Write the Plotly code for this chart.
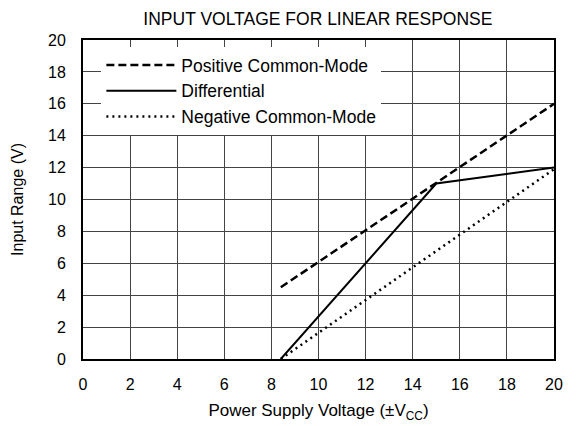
import plotly.graph_objects as go

# Data
pos_x = [8.4, 20]
pos_y = [4.5, 16]
diff_x = [8.4, 15, 20]
diff_y = [0, 11, 12]
neg_x = [8.4, 20]
neg_y = [0, 11.9]

x_ticks = list(range(0, 21, 2))
y_ticks = list(range(0, 21, 2))

FONT = "Liberation Sans, Arial, sans-serif"

fig = go.Figure()
fig.add_trace(go.Scatter(x=pos_x, y=pos_y, mode="lines", name="Positive Common-Mode",
                         line=dict(color="black", width=2.5, dash="8px,4px")))
fig.add_trace(go.Scatter(x=diff_x, y=diff_y, mode="lines", name="Differential",
                         line=dict(color="black", width=2)))
fig.add_trace(go.Scatter(x=neg_x, y=neg_y, mode="lines", name="Negative Common-Mode",
                         line=dict(color="black", width=2.5, dash="2px,4px")))

fig.update_layout(
    width=577, height=426,
    margin=dict(l=83, r=23, t=40, b=67, autoexpand=False),
    paper_bgcolor="white", plot_bgcolor="white",
    font=dict(family=FONT, size=16, color="black"),
    title=dict(text="INPUT VOLTAGE FOR LINEAR RESPONSE", x=0.551, xanchor="center",
               xref="container", y=0.955, yanchor="middle", font=dict(size=17.5)),
    showlegend=True,
    legend=dict(x=0.039, y=0.978, xanchor="left", yanchor="top",
                bgcolor="white", borderwidth=0, itemwidth=70,
                font=dict(size=17.5), tracegroupgap=0),
    xaxis=dict(range=[0, 20], tickvals=x_ticks, showgrid=True, gridcolor="#444",
               gridwidth=1, zeroline=False, showline=True, linecolor="black",
               linewidth=2, mirror=True, ticks="", ticklabelstandoff=10,
               tickfont=dict(size=16), automargin=False,
               title=dict(text="Power Supply Voltage (±V<sub>CC</sub>)", standoff=12,
                          font=dict(size=17))),
    yaxis=dict(range=[0, 20], tickvals=y_ticks, showgrid=True, gridcolor="#444",
               gridwidth=1, zeroline=False, showline=True, linecolor="black",
               linewidth=2, mirror=True, ticks="", ticklabelstandoff=12,
               tickfont=dict(size=16), automargin=False,
               title=dict(text="Input Range (V)", standoff=20, font=dict(size=16))),
)

fig.write_html("out.html", config={"displayModeBar": False},
               post_script="document.body.style.margin='0';")
